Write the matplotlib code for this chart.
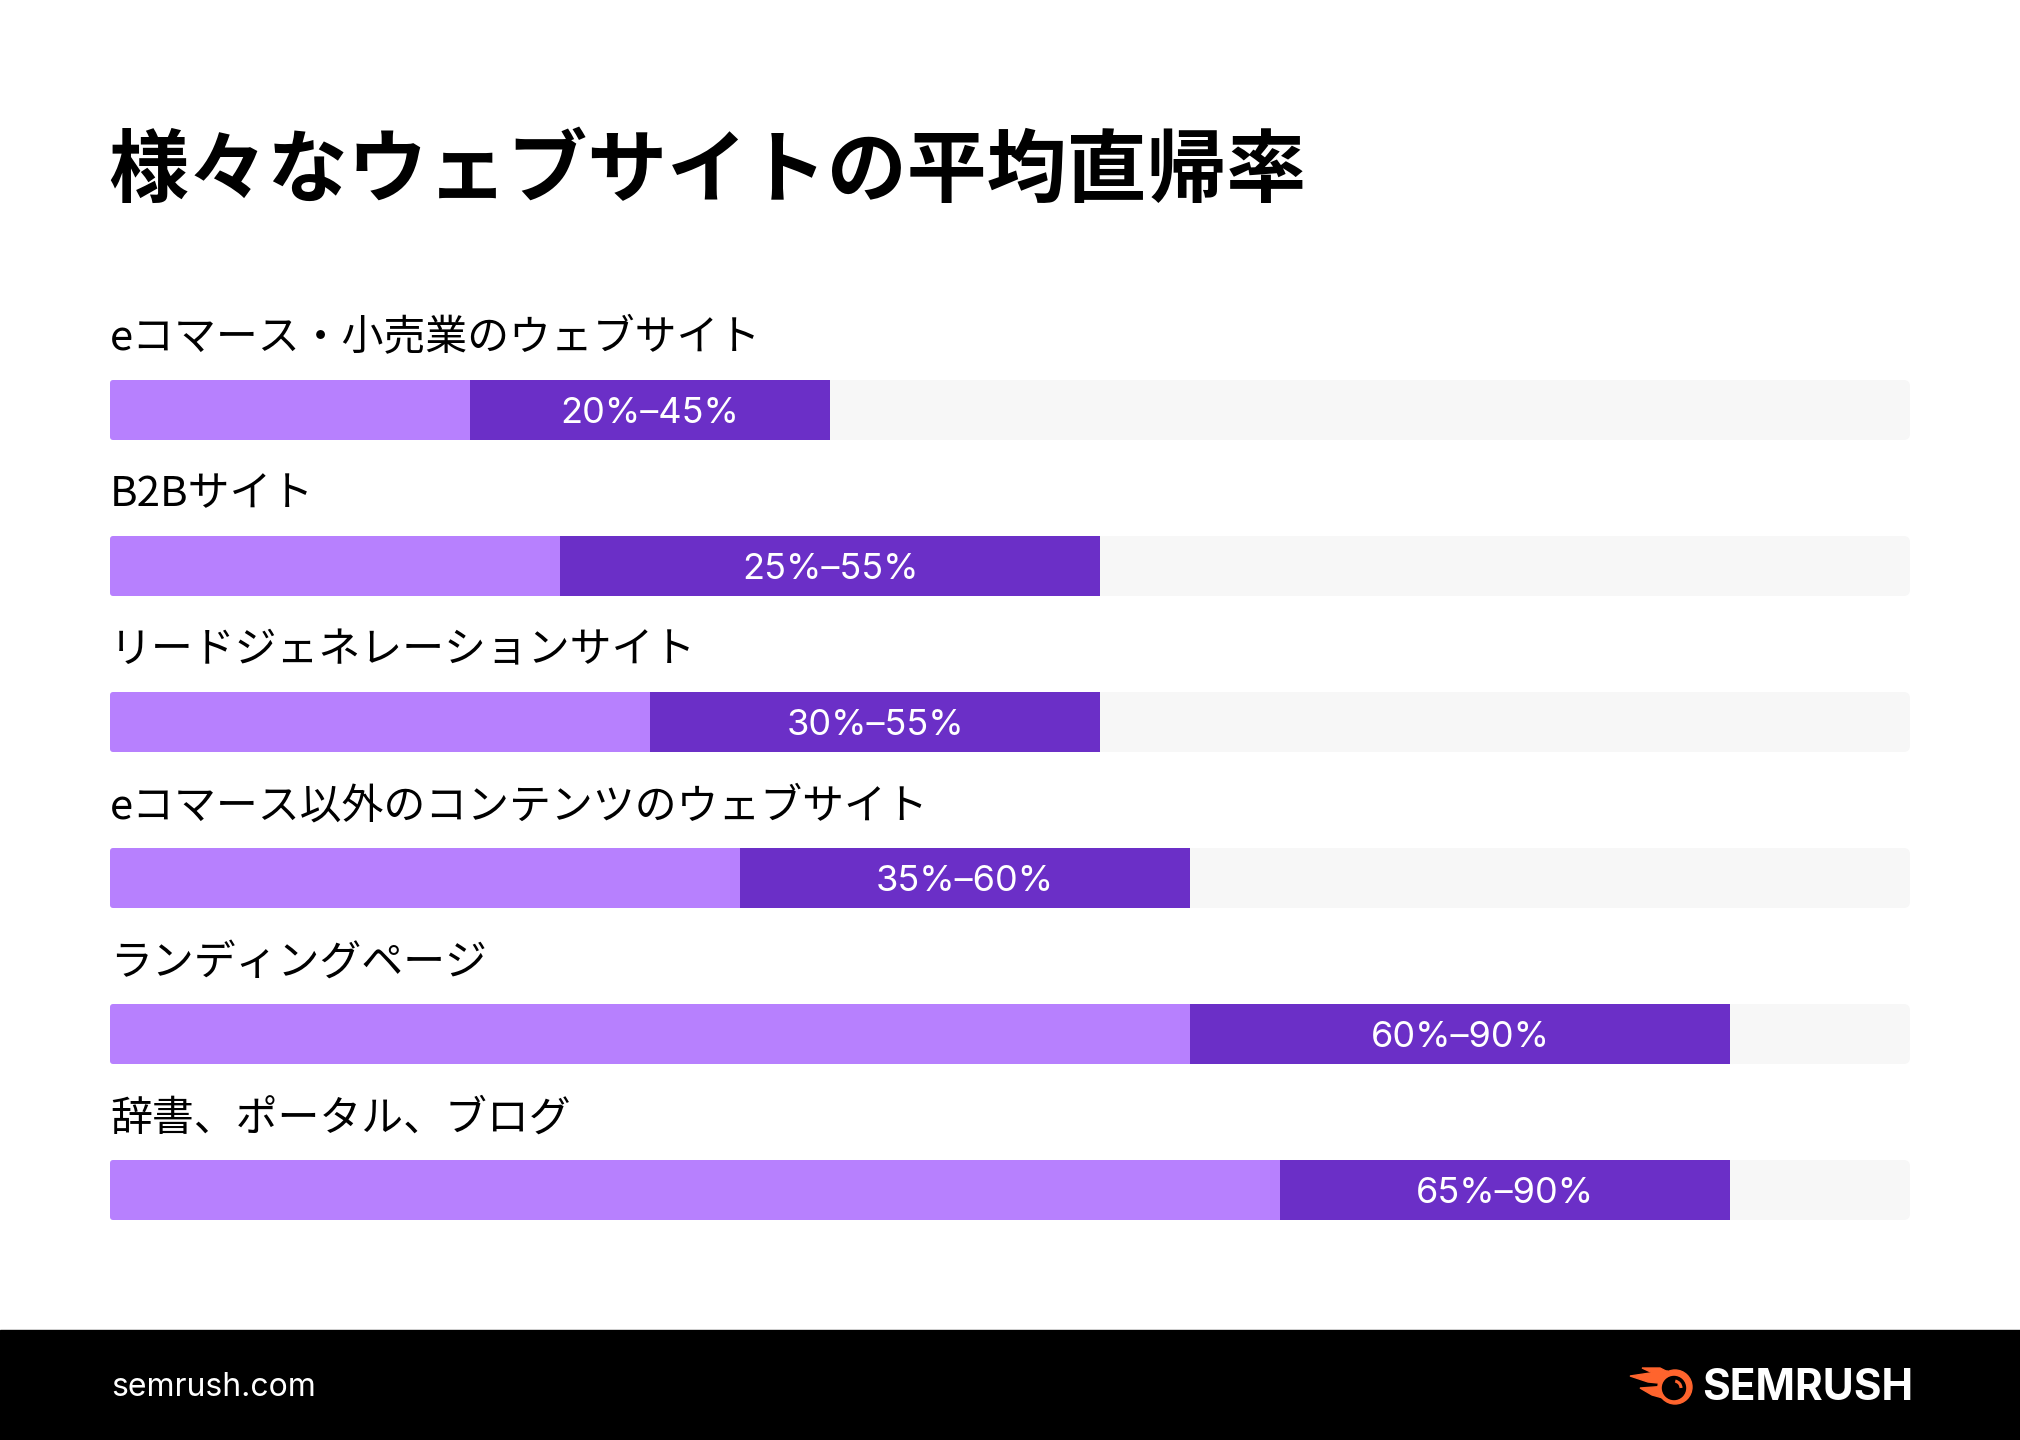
import matplotlib.pyplot as plt
from matplotlib.patches import Rectangle, FancyBboxPatch, Circle, Polygon, Arc

categories = ['eコマース・小売業のウェブサイト', 'B2Bサイト', 'リードジェネレーションサイト',
              'eコマース以外のコンテンツのウェブサイト', 'ランディングページ', '辞書、ポータル、ブログ']
# drawn segment bounds (as in the picture) and the printed range labels
low = [20, 25, 30, 35, 60, 65]
high = [40, 55, 55, 60, 90, 90]
labels = ['20%–45%', '25%–55%', '30%–55%', '35%–60%', '60%–90%', '65%–90%']
title = '様々なウェブサイトの平均直帰率'

light = '#B780FE'
dark = '#6B2FC7'
track = '#F7F7F7'
jp = ['Noto Sans CJK JP', 'DejaVu Sans']
num = ['Inter', 'DejaVu Sans']

fig = plt.figure(figsize=(20.2, 14.4), dpi=100)

# background layer in pixel coords
bg = fig.add_axes([0, 0, 1, 1])
bg.set_xlim(0, 2020)
bg.set_ylim(1440, 0)
bg.axis('off')
bg.text(108, 172, title, fontsize=57.5, fontweight='bold', family=jp, va='center', ha='left')

bg.add_patch(Rectangle((0, 1330), 2020, 110, color='black'))
bg.text(111, 1388, 'semrush.com', color='white', fontsize=23, family=num, va='center')

# logo
orange = '#FF642D'
bg.add_patch(Polygon([(1630, 1376), (1650, 1373), (1668, 1371), (1668, 1384), (1648, 1382)], color=orange))
bg.add_patch(Polygon([(1642, 1368), (1660, 1368), (1668, 1372), (1655, 1374)], color=orange))
bg.add_patch(Polygon([(1640, 1388), (1668, 1386), (1670, 1400), (1652, 1395)], color=orange))
bg.add_patch(Circle((1675, 1387), 17, color=orange))
bg.add_patch(Circle((1674, 1388), 11.5, color='black'))
bg.add_patch(Arc((1674, 1388), 14, 14, theta1=280, theta2=360, color=orange, lw=2.2))
bg.text(1702, 1388, 'SEMRUSH', color='white', fontsize=30.5, fontweight='bold', family=num, va='center')

# bars
ax = fig.add_axes([110 / 2020, 1 - 1268 / 1440, 1800 / 2020, 1014 / 1440])
ax.set_xlim(0, 100)
ax.set_ylim(5.5, -1)
ax.axis('off')
h = 60 / 156
asp = 18 / 156

for i, cat in enumerate(categories):
    ax.add_patch(FancyBboxPatch((0, i - h / 2), 100, h, boxstyle='round,pad=0,rounding_size=0.35',
                                mutation_aspect=asp, fc=track, ec='none'))
    ax.add_patch(FancyBboxPatch((0, i - h / 2), high[i], h, boxstyle='round,pad=0,rounding_size=0.18',
                                mutation_aspect=asp, fc=light, ec='none'))
    ax.barh(i, high[i] - low[i], left=low[i], height=h, color=dark)
    ax.text((low[i] + high[i]) / 2, i + 0.025, labels[i], color='white',
            fontsize=26, family=num, ha='center', va='center')
    ax.text(0, i - 0.455, cat, fontsize=30.2, family=jp, ha='left', va='center', clip_on=False)

fig.savefig('out.png', dpi=100)
